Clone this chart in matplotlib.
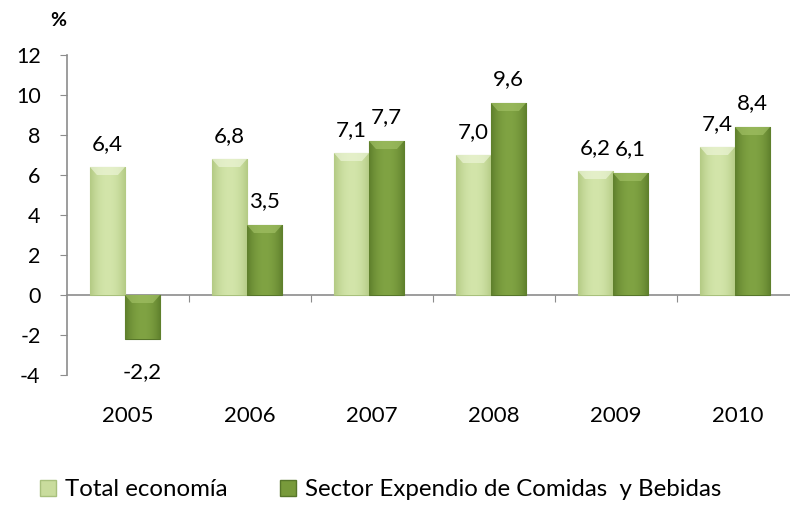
import matplotlib.pyplot as plt
import matplotlib.transforms as mtransforms
import matplotlib.colors as mc
import numpy as np

plt.rcParams['font.family'] = ['Lato', 'DejaVu Sans']

years = ['2005', '2006', '2007', '2008', '2009', '2010']
total_economia = [6.4, 6.8, 7.1, 7.0, 6.2, 7.4]
sector_comidas = [-2.2, 3.5, 7.7, 9.6, 6.1, 8.4]
labels_series = ['Total economía', 'Sector Expendio de Comidas  y Bebidas']
yticks = [-4, -2, 0, 2, 4, 6, 8, 10, 12]

light = '#c9dc9d'
light_edge = '#a8c07c'
dark = '#789a3b'
dark_edge = '#57762a'

fig = plt.figure(figsize=(7.9, 5.14), dpi=100)
ax = fig.add_axes([67/790, 1-375/514, 723/790, 320/514])

x = np.arange(len(years))
w = 0.287
off = -0.025

b1 = ax.bar(x + off - w/2, total_economia, w, color=light, edgecolor=light_edge, linewidth=0.8, zorder=3)
b2 = ax.bar(x + off + w/2, sector_comidas, w, color=dark, edgecolor=dark_edge, linewidth=0.8, zorder=3)

# soft gradient on each bar (darker at the sides, lighter in the middle)
grad = np.abs(np.linspace(-1, 1, 64))[None, :]
def shade(bars, c_mid, c_side, c_top):
    cmap = mc.LinearSegmentedColormap.from_list('g', [c_mid, c_side])
    for p in bars:
        x0, y0 = p.get_x(), p.get_y()
        x1, y1 = x0 + p.get_width(), y0 + p.get_height()
        lo, hi = min(y0, y1), max(y0, y1)
        im = ax.imshow(grad**2, cmap=cmap, aspect='auto', extent=[x0, x1, lo, hi],
                       zorder=3.1, interpolation='bicubic')
        im.set_clip_path(p)
        # bevel highlight at the top edge
        bw = p.get_width()
        ax.fill([x0, x1, x1 - bw*0.2, x0 + bw*0.2], [hi, hi, hi - 0.4, hi - 0.4],
                color=c_top, alpha=0.65, lw=0, zorder=3.2)
shade(b1, '#d3e5aa', '#b3ca84', '#eef6da')
shade(b2, '#80a343', '#5e7f2c', '#a3c266')
ax.set_xlim(-0.5, -0.5 + 723/122)
ax.set_ylim(-4, 12)
ax.set_aspect('auto')

fs = 16

def fmt(v):
    return f'{v:.1f}'.replace('.', ',')

# data labels
for xi, v in zip(x, total_economia):
    ax.text(xi + off - w/2, v + 1.15, fmt(v), ha='center', va='center', fontsize=fs)
for xi, v in zip(x, sector_comidas):
    if v >= 0:
        ax.text(xi + off + w/2, v + 1.2, fmt(v), ha='center', va='center', fontsize=fs)
    else:
        ax.text(xi + off + w/2, v - 1.65, fmt(v), ha='center', va='center', fontsize=fs)

for s in ['top', 'right']:
    ax.spines[s].set_visible(False)
ax.spines['left'].set_color('#8c8c8c')
ax.spines['bottom'].set_color('#8c8c8c')
ax.spines['bottom'].set_position(('data', 0))
ax.spines['left'].set_linewidth(1.2)
ax.spines['bottom'].set_linewidth(1.2)

ax.set_yticks(yticks)
ax.set_yticklabels([str(t) for t in yticks], fontsize=15.5)
ax.tick_params(axis='y', length=5, color='#8c8c8c', pad=14)
ax.set_xticks(x[:-1] + 0.5)
ax.set_xticklabels([])
ax.tick_params(axis='x', length=5, color='#8c8c8c', direction='out')

trans = mtransforms.blended_transform_factory(ax.transData, ax.transAxes)
for xi, yr in zip(x, years):
    ax.text(xi, -0.128, yr, transform=trans, ha='center', va='center', fontsize=fs)

fig.text(58/790, 1-20/514, '%', ha='center', va='center', fontsize=14, fontweight='bold')

# legend
h1 = plt.Rectangle((0, 0), 1, 1, facecolor=light, edgecolor=light_edge)
h2 = plt.Rectangle((0, 0), 1, 1, facecolor=dark, edgecolor=dark_edge)
fig.legend([h1, h2], labels_series, loc='center left', bbox_to_anchor=(40/790, 1-490/514),
           ncol=2, frameon=False, fontsize=17.3, handlelength=0.67, handleheight=0.67,
           handletextpad=0.37, columnspacing=2.2, borderpad=0, borderaxespad=0)

fig.savefig('out.png', dpi=100)
